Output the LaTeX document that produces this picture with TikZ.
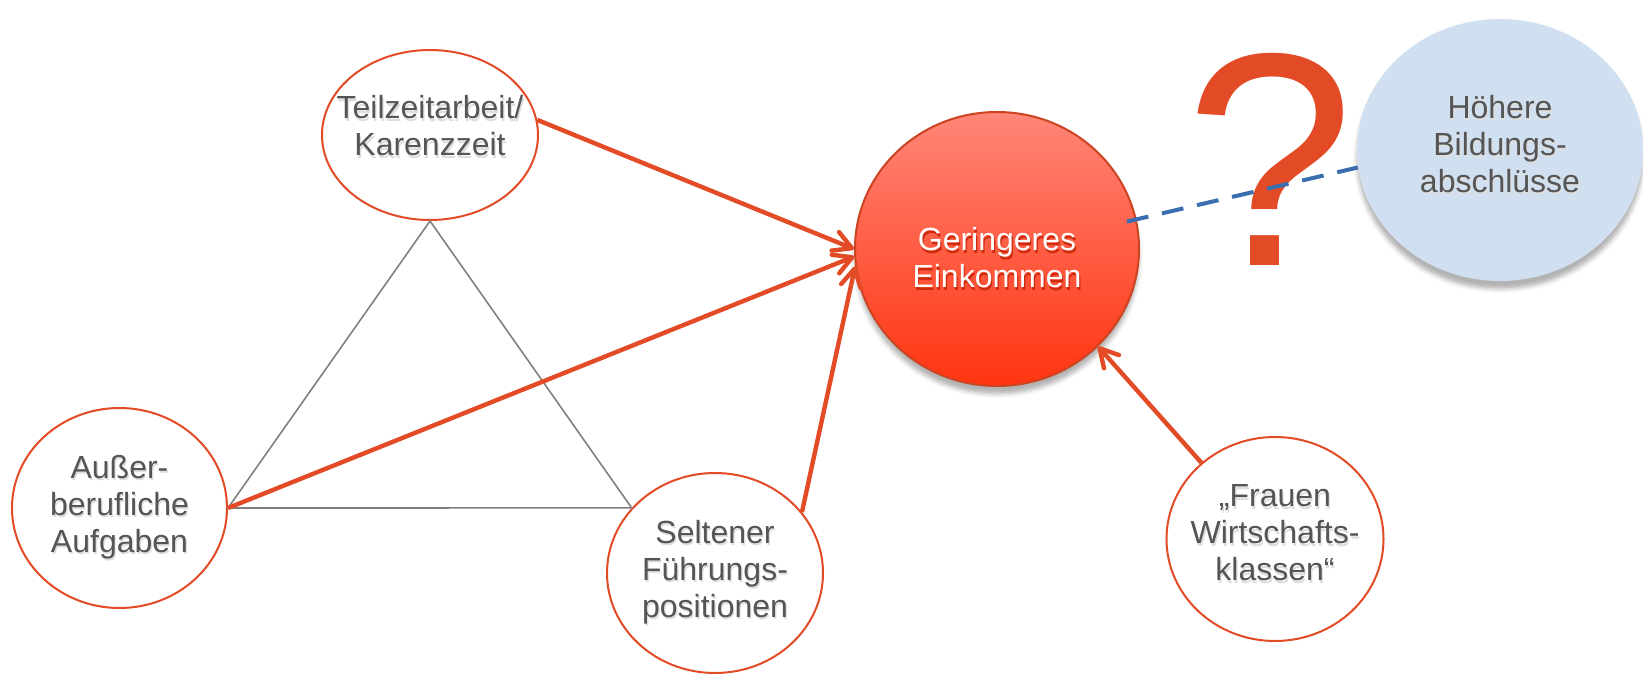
\documentclass[tikz,border=0pt]{standalone}
\usepackage{fontspec}
\setmainfont{Liberation Sans}
\usetikzlibrary{shapes.geometric,arrows.meta,shadows.blur}

\definecolor{ored}{RGB}{227,74,38}
\definecolor{txtgray}{RGB}{85,85,85}
\definecolor{trigray}{RGB}{128,128,128}
\definecolor{dblue}{RGB}{59,110,175}
\definecolor{lblue}{RGB}{208,224,240}
\definecolor{gtop}{RGB}{255,134,120}
\definecolor{gbot}{RGB}{255,52,16}

% soft text shadow
\newcommand\shd[2][black!13]{\makebox[0pt][l]{\hspace{0.6pt}\raisebox{-1.2pt}{\textcolor{#1}{#2}}}#2}

\begin{document}
\begin{tikzpicture}[x=0.5pt,y=0.5pt,yscale=-1,xscale=1,
	bubble/.style={ellipse, draw=ored, line width=1pt, fill=white, inner sep=0pt},
	txt/.style={font=\fontsize{16}{18.5}\selectfont, text=txtgray, align=center},
	cause/.style={draw=ored, line width=2.2pt, -{Straight Barb[length=9pt,width=10pt,round]}},
	side/.style={draw=trigray, line width=0.8pt}]
	\useasboundingbox (0,0) rectangle (1643,674);
	
	%Shape: Ellipse [Teilzeitarbeit]
	\node [bubble, minimum width=108pt, minimum height=85pt,
		label={[txt, yshift=4pt]center:\shd{Teilzeitarbeit/}\\\shd{Karenzzeit}}] (teilzeit) at (430,135) {};
	%Shape: Ellipse [Ausser]
	\node [bubble, minimum width=107.5pt, minimum height=100pt,
		label={[txt]center:\shd{Außer-}\\\shd{berufliche}\\\shd{Aufgaben}}] (ausser) at (119.5,508) {};
	%Shape: Ellipse [Seltener]
	\node [bubble, minimum width=108pt, minimum height=100pt,
		label={[txt]center:\shd{Seltener}\\\shd{Führungs-}\\\shd{positionen}}] (seltener) at (715,573) {};
	%Shape: Ellipse [Frauen]
	\node [bubble, minimum width=108.5pt, minimum height=102pt,
		label={[txt, yshift=2.5pt]center:\shd{„Frauen}\\\shd{Wirtschafts-}\\\shd{klassen“}}] (frauen) at (1275,539) {};
	%Shape: Ellipse [Geringeres]
	\node [bubble, draw=ored!90!black, top color=gtop, bottom color=gbot,
		blur shadow={shadow xshift=0pt, shadow yshift=-4pt, shadow opacity=30},
		minimum width=142pt, minimum height=137pt,
		label={[txt, text=white, yshift=-5pt]center:\shd[gbot!80!black]{Geringeres}\\\shd[gbot!80!black]{Einkommen}}] (gering) at (997,249) {};
	%Shape: Ellipse [Hoehere]
	\node [ellipse, inner sep=0pt, fill=lblue,
		blur shadow={shadow xshift=0pt, shadow yshift=-4pt, shadow opacity=30},
		minimum width=143pt, minimum height=131pt,
		label={[txt, yshift=2.5pt]center:\shd{Höhere}\\\shd{Bildungs-}\\\shd{abschlüsse}}] (hoehere) at (1500,150) {};
	
	%Straight Lines [triangle]
	\draw [side] (teilzeit.south) -- (ausser.east) -- (seltener.142) -- cycle;
	
	%Straight Lines [arrows]
	\draw [cause] (teilzeit.8) -- (gering.180);
	\draw [cause] (ausser.east) -- (gering.183);
	\draw [cause] (seltener.35) -- (gering.187);
	\draw [cause] (frauen.134) -- (gering.-44);
	
	% Text Node
	\node [font=\fontsize{152}{152}\selectfont, text=ored, inner sep=0pt, anchor=base] (qmark) at (1270,265) {?};
	%Straight Lines [dashed]
	\draw [dblue, line width=2pt, dash pattern=on 11pt off 7pt, shorten <=-5pt] (gering.12) -- (hoehere.187);
	
\end{tikzpicture}
\end{document}
